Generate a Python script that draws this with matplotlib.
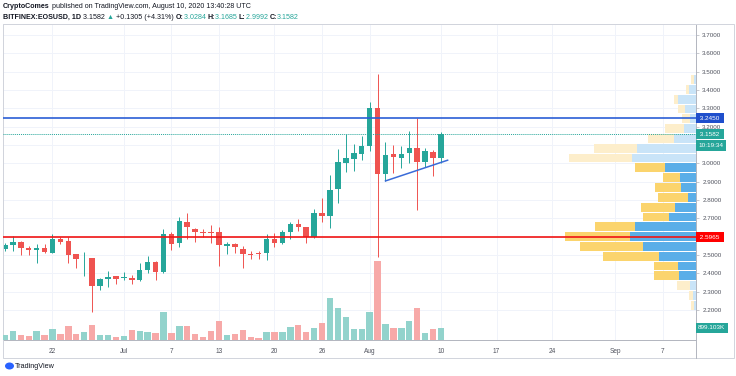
import numpy as np
import pandas as pd
import matplotlib
matplotlib.use('Agg')
import matplotlib.pyplot as plt
import matplotlib.dates as mdates
from matplotlib.patches import Rectangle, Ellipse
from matplotlib.text import Annotation

plt.rcParams['font.family'] = ['Liberation Sans', 'DejaVu Sans']

# daily candles EOS/USD, Jun 16 .. Aug 10 2020
dates = pd.date_range('2020-06-16', '2020-08-10', freq='D')
opens = [2.533, 2.556, 2.573, 2.536, 2.526, 2.540, 2.513, 2.589, 2.576, 2.504,
         2.482, 2.482, 2.333, 2.367, 2.384, 2.373, 2.376, 2.364, 2.418, 2.462,
         2.409, 2.614, 2.564, 2.682, 2.644, 2.626, 2.624, 2.624, 2.547, 2.562,
         2.533, 2.507, 2.511, 2.509, 2.587, 2.564, 2.625, 2.667, 2.651, 2.600,
         2.731, 2.714, 2.858, 3.003, 3.024, 3.051, 3.096, 3.300, 2.940, 3.049,
         3.031, 3.055, 3.085, 3.005, 3.064, 3.0284]
highs = [2.563, 2.605, 2.578, 2.549, 2.558, 2.558, 2.615, 2.600, 2.600, 2.506,
         2.515, 2.485, 2.376, 2.414, 2.387, 2.409, 2.389, 2.455, 2.496, 2.467,
         2.640, 2.624, 2.709, 2.731, 2.649, 2.640, 2.665, 2.651, 2.573, 2.565,
         2.551, 2.524, 2.520, 2.614, 2.618, 2.636, 2.682, 2.696, 2.655, 2.753,
         2.813, 2.936, 3.078, 3.158, 3.105, 3.149, 3.336, 3.486, 3.118, 3.100,
         3.095, 3.176, 3.245, 3.085, 3.075, 3.1685]
lows = [2.520, 2.522, 2.500, 2.500, 2.458, 2.512, 2.510, 2.558, 2.458, 2.431,
        2.385, 2.191, 2.307, 2.325, 2.343, 2.364, 2.340, 2.360, 2.400, 2.364,
        2.404, 2.527, 2.545, 2.586, 2.573, 2.600, 2.567, 2.442, 2.505, 2.509,
        2.431, 2.476, 2.476, 2.473, 2.542, 2.560, 2.586, 2.633, 2.567, 2.595,
        2.682, 2.645, 2.782, 2.954, 2.960, 3.018, 3.067, 2.490, 2.905, 2.950,
        2.975, 3.000, 2.745, 2.978, 2.930, 2.9992]
closes = [2.555, 2.573, 2.540, 2.526, 2.538, 2.515, 2.589, 2.573, 2.500, 2.480,
          2.486, 2.333, 2.367, 2.380, 2.371, 2.378, 2.362, 2.418, 2.462, 2.409,
          2.614, 2.560, 2.685, 2.651, 2.627, 2.622, 2.621, 2.556, 2.562, 2.544,
          2.504, 2.500, 2.505, 2.586, 2.567, 2.625, 2.667, 2.654, 2.600, 2.727,
          2.714, 2.855, 3.006, 3.027, 3.055, 3.095, 3.303, 2.940, 3.045, 3.035,
          3.049, 3.085, 3.005, 3.067, 3.027, 3.1582]
# volume in thousands
volumes = [400, 675, 350, 325, 675, 375, 850, 450, 1075, 450,
           600, 1125, 375, 375, 225, 300, 725, 675, 575, 550,
           2075, 525, 1075, 1075, 450, 225, 650, 1425, 375, 475,
           725, 250, 175, 625, 600, 600, 950, 1100, 600, 875,
           1300, 3125, 2375, 1725, 825, 825, 2075, 5950, 1175, 900,
           900, 1400, 2375, 525, 825, 899.103]

# visible-range volume profile, rows from top (3.48) to bottom (2.20)
vp_top = 3.4835
vp_row = 0.0535
vp_up = [2.3, 7.3, 18.3, 10.6, 5.6, 12, 22.3, 59, 64, 30.6, 15.6, 14.6,
         8, 20.6, 27.3, 60.6, 65.6, 53.3, 37.3, 18, 17.3, 6.3, 3, 2.3]
vp_down = [2.3, 2.7, 3.3, 7.4, 8.4, 19.3, 26, 43.3, 63.3, 30.7, 17.7, 26,
           30, 34, 26, 40.7, 65.7, 62.3, 56, 24.3, 25, 12.7, 4.3, 2.3]
vp_in_value_area = [False] * 9 + [True] * 12 + [False] * 3

resistance = 3.2450
support = 2.5965
last_price = 3.1582
tri_dates = ['2020-08-03T00:00', '2020-08-10T20:00']
tri_prices = [2.904, 3.017]

tick_dates = ['2020-06-22', '2020-07-01', '2020-07-07', '2020-07-13', '2020-07-20',
              '2020-07-26', '2020-08-01', '2020-08-10', '2020-08-17', '2020-08-24',
              '2020-09-01', '2020-09-07']
tick_labels = ['22', 'Jul', '7', '13', '20', '26', 'Aug', '10', '17', '24', 'Sep', '7']
price_ticks = [2.2, 2.3, 2.4, 2.5, 2.6, 2.7, 2.8, 2.9, 3.0, 3.1, 3.2, 3.3, 3.4, 3.5, 3.6, 3.7]
hidden_ticks = [2.6, 3.1]  # covered by the price tags

UP = '#26a69a'
DOWN = '#ef5350'
GRID = '#f0f3fa'
TXT = '#50535e'
DARK = '#131722'

W, H = 736, 376
fig = plt.figure(figsize=(W / 100, H / 100), dpi=100)
fig.patch.set_facecolor('white')

L, R, T, B = 3, 696, 24, 340
pos = [L / W, 1 - B / H, (R - L) / W, (B - T) / H]

ax = fig.add_axes(pos, zorder=1)
axv = fig.add_axes(pos, zorder=2, sharex=ax)
axp = fig.add_axes(pos, zorder=3, sharey=ax)
for a in (axv, axp):
    a.patch.set_visible(False)
    a.axis('off')

x = mdates.date2num(dates)
x0 = x[0]
ax.set_xlim(x0 - 0.24, x0 + 87.16)
ax.set_ylim(2.0364, 3.76)

# grid + axes
ax.set_xticks(mdates.date2num(pd.to_datetime(tick_dates)))
ax.set_xticklabels(tick_labels)
ax.set_yticks(price_ticks)
ax.set_yticklabels(['' if v in hidden_ticks else '%.4f' % v for v in price_ticks])
ax.grid(True, color=GRID, lw=0.7)
ax.set_axisbelow(True)
ax.yaxis.tick_right()
ax.tick_params(axis='x', length=0, labelsize=4.7, labelcolor=TXT, pad=6)
ax.tick_params(axis='y', length=2, width=0.5, color='#b2b5be',
               labelsize=4.5, labelcolor=TXT, pad=2.5)
for s in ('top', 'left'):
    ax.spines[s].set_color('#e0e3eb')
    ax.spines[s].set_linewidth(0.6)
for s in ('right', 'bottom'):
    ax.spines[s].set_color('#b2b5be')
    ax.spines[s].set_linewidth(0.7)

# candles
for xi, o, h, l, c in zip(x, opens, highs, lows, closes):
    col = UP if c >= o else DOWN
    ax.vlines(xi, l, h, color=col, lw=0.7, zorder=3)
    ax.bar(xi, max(abs(c - o), 0.004), bottom=min(o, c), width=0.7,
           color=col, zorder=4)

# triangle support
ax.plot(mdates.date2num(pd.to_datetime(tri_dates)), tri_prices,
        color='#3a6bd8', lw=1.1, zorder=5)

# volume
vcol = ['#92d3cc' if c >= o else '#f7a9a8' for o, c in zip(opens, closes)]
axv.bar(x, volumes, width=0.8, color=vcol)
axv.set_ylim(0, (B - T) * 74.92)

# volume profile
axp.set_xlim(R - L, 0)
vp_centers = vp_top - vp_row * (np.arange(len(vp_up)) + 0.5)
blue = ['#5aaee8' if v else '#c9e4f8' for v in vp_in_value_area]
yel = ['#fbd46d' if v else '#fdeecb' for v in vp_in_value_area]
axp.barh(vp_centers, vp_up, height=vp_row * 0.9, color=blue)
axp.barh(vp_centers, vp_down, left=vp_up, height=vp_row * 0.9, color=yel)

# horizontal levels
axp.axhline(resistance, color='#2b5fd6', lw=1.2)
axp.axhline(support, color='#f01414', lw=1.2)
axp.axhline(last_price, color=UP, lw=0.7, ls=(0, (1, 1)))


def tag(axis, y, s, fc):
    axis.text(1.003, y, s, transform=axis.get_yaxis_transform(), fontsize=4.6,
              color='white', va='center', ha='left', clip_on=False, zorder=10,
              bbox=dict(boxstyle='square,pad=0.4', fc=fc, ec='none'))


tag(ax, resistance, ' 3.2450 ', '#1f4fcc')
tag(ax, last_price, ' 3.1582 ', UP)
tag(ax, 3.097, '10:19:34', UP)
tag(ax, support, ' 2.5965 ', '#ff0000')
tag(axv, volumes[-1], '899.103K', UP)

# frame around chart + axes
fig.patches.append(Rectangle((L / W, 1 - 358 / H), (734 - L) / W, (358 - T) / H,
                             transform=fig.transFigure, fill=False,
                             ec='#d1d4dc', lw=0.7))
fig.add_artist(plt.Line2D([R / W, R / W], [1 - 358 / H, 1 - B / H],
                          transform=fig.transFigure, color='#b2b5be', lw=0.7))


# header, pieces chained left to right
def chain(parts, px, py):
    s, c, w = parts[0]
    prev = fig.text(px / W, 1 - py / H, s, fontsize=5.1, color=c,
                    weight=w, va='bottom')
    for s, c, w in parts[1:]:
        prev = fig.add_artist(Annotation(s, xy=(1, 0), xycoords=prev,
                                         va='bottom', ha='left', fontsize=5.1,
                                         color=c, weight=w))


chain([('CryptoComes', DARK, 'bold'),
       (' published on TradingView.com, August 10, 2020 13:40:28 UTC', DARK, 'normal')],
      3, 10)
chain([('BITFINEX:EOSUSD, 1D', DARK, 'bold'), (' 3.1582 ', DARK, 'normal'),
       ('\u25b2', UP, 'normal'), (' +0.1305 (+4.31%) ', DARK, 'normal'),
       ('O:', DARK, 'bold'), ('3.0284 ', UP, 'normal'),
       ('H:', DARK, 'bold'), ('3.1685 ', UP, 'normal'),
       ('L:', DARK, 'bold'), ('2.9992 ', UP, 'normal'),
       ('C:', DARK, 'bold'), ('3.1582', UP, 'normal')],
      3, 21)

# footer
fig.patches.append(Ellipse((9.5 / W, 1 - 366 / H), 9 / W, 7 / H,
                           transform=fig.transFigure, fc='#2962ff', ec='none'))
fig.text(15 / W, 1 - 366 / H, 'TradingView', fontsize=5.2, color=DARK,
         va='center', ha='left')

fig.savefig('out.png', dpi=100)
